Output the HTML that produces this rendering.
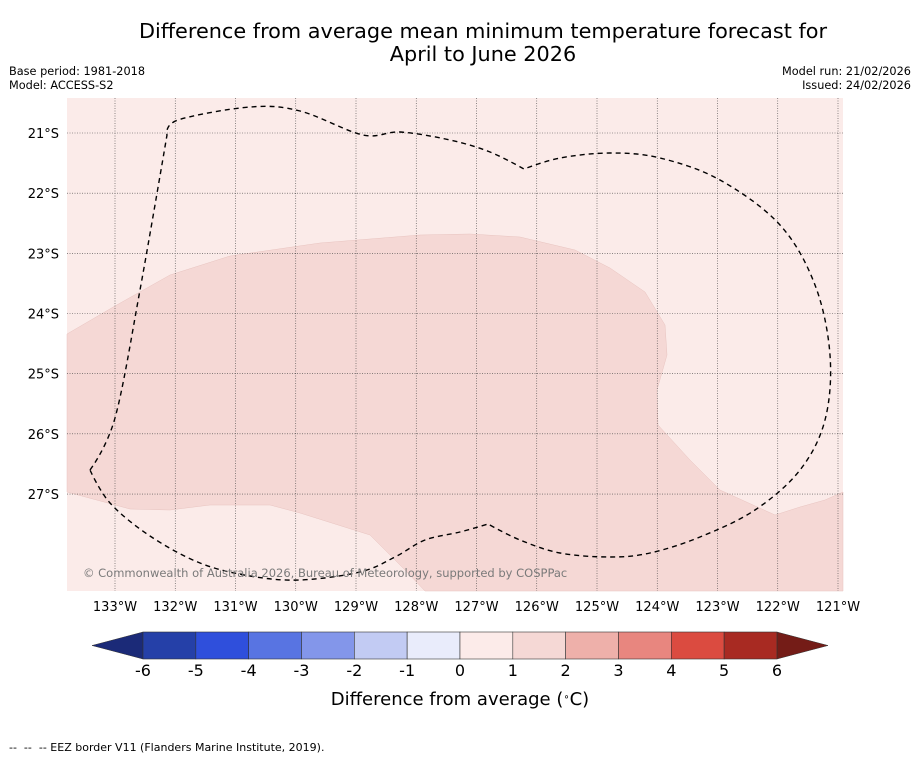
<!DOCTYPE html>
<html><head><meta charset="utf-8"><style>
body{margin:0;background:#fff;font-family:"DejaVu Sans","Liberation Sans",sans-serif;}
</style></head><body>
<svg width="919" height="758" xmlns="http://www.w3.org/2000/svg" font-family="DejaVu Sans, Liberation Sans, sans-serif">
<rect width="919" height="758" fill="#fff"/>
<text x="483" y="38" font-size="20.8" text-anchor="middle">Difference from average mean minimum temperature forecast for</text>
<text x="483" y="61" font-size="20.8" text-anchor="middle">April to June 2026</text>
<text x="9" y="75" font-size="11.3">Base period: 1981-2018</text>
<text x="9" y="89" font-size="11.3">Model: ACCESS-S2</text>
<text x="911" y="75" font-size="11.3" text-anchor="end">Model run: 21/02/2026</text>
<text x="911" y="89" font-size="11.3" text-anchor="end">Issued: 24/02/2026</text>
<g id="map">
<rect x="67" y="98" width="776" height="493" fill="#fbebe9"/>
<polygon fill="#f5d8d5" stroke="#e8c4c0" stroke-width="0.5" points="67,334 115,306 170,275 230,256 320,243 420,235 470,234 520,237 575,250 610,268 645,292 665,325 667,355 657,390 658,425 690,460 720,490 775,515 800,507 825,500 843,492 843,591 425,591 405,570 370,535 300,513 270,505 210,505 170,510 130,509 67,492"/>
<g id="grid"></g>
<path id="eez" fill="none" stroke="#000" stroke-width="1.4" stroke-dasharray="5,4"/>
<text x="83" y="577" font-size="11.5" fill="#7a7a7a">© Commonwealth of Australia 2026, Bureau of Meteorology, supported by COSPPac</text>
</g>
<g id="cbar"></g>
<text x="460" y="705" font-size="18" text-anchor="middle">Difference from average (<tspan baseline-shift="super" font-size="10">∘</tspan>C)</text>
<text x="9" y="751" font-size="11" xml:space="preserve">--  --  -- EEZ border V11 (Flanders Marine Institute, 2019).</text>
</svg>
<script>
const lonTicks=[133,132,131,130,129,128,127,126,125,124,123,122,121];
const latTicks=[21,22,23,24,25,26,27];
const levels=[-6,-5,-4,-3,-2,-1,0,1,2,3,4,5,6];
const binColors=["#2540a8","#2f4fdc","#5874e2","#8396ea","#c2cbf3","#e9ecfb","#fcebe9","#f5d8d5","#eeb0aa","#e8867f","#db4b40","#a82a22"];
const NS="http://www.w3.org/2000/svg";
const lx=v=>115+(133-v)*60.25, ly=v=>133+(v-21)*60.17;
const cx=v=>143+(v+6)*52.83;
const g=document.getElementById('grid'), svg=document.querySelector('svg');
function mk(t,a,p){const e=document.createElementNS(NS,t);for(const k in a)e.setAttribute(k,a[k]);(p||svg).appendChild(e);return e;}
// EEZ smoothed
const ez=[[90,470],[115,418],[140,290],[167,135],[178,120],[250,107],[300,111],[363,135],[400,132],[450,140],[490,152],[524,169],[560,158],[610,153],[660,158],[720,180],[780,225],[815,285],[830,355],[825,420],[800,470],[755,510],[700,537],[650,553],[610,557],[560,553],[520,540],[488,524],[460,532],[425,540],[395,557],[360,572],[300,580],[250,576],[200,563],[150,536],[110,503]];
const sharp=new Set([0,3,11,27]);
let d='M'+ez[0];const n=ez.length;
for(let i=0;i<n;i++){const p0=ez[(i-1+n)%n],p1=ez[i],p2=ez[(i+1)%n],p3=ez[(i+2)%n];
 const t1=sharp.has(i)?0:1/6,t2=sharp.has((i+1)%n)?0:1/6;
 d+=` C${p1[0]+(p2[0]-p0[0])*t1},${p1[1]+(p2[1]-p0[1])*t1} ${p2[0]-(p3[0]-p1[0])*t2},${p2[1]-(p3[1]-p1[1])*t2} ${p2[0]},${p2[1]}`;}
document.getElementById('eez').setAttribute('d',d);
lonTicks.forEach(v=>{const x=lx(v);
 const l=mk('line',{x1:x,x2:x,y1:98,y2:591,stroke:'#444','stroke-width':0.6,'stroke-dasharray':'1,1.5'},g);
 
 
 const t=mk('text',{x:x,y:611,'font-size':13,'text-anchor':'middle'});t.textContent=v+'°W';
 
 });
latTicks.forEach(v=>{const y=ly(v);
 const l=mk('line',{x1:67,x2:843,y1:y,y2:y,stroke:'#444','stroke-width':0.6,'stroke-dasharray':'1,1.5'},g);
 
 
 const t=mk('text',{x:59,y:y+5,'font-size':13,'text-anchor':'end'});t.textContent=v+'°S';
 
 });
const cb=document.getElementById('cbar');
const lo=mk('polygon',{points:`${cx(-6)},632 ${cx(-6)},659 92,645.5`,fill:'#1b2a78',stroke:'#333','stroke-width':0.5},cb);


const hi=mk('polygon',{points:`${cx(6)},632 ${cx(6)},659 828,645.5`,fill:'#741c17',stroke:'#333','stroke-width':0.5},cb);


for(let i=0;i<levels.length-1;i++){
 const r=mk('rect',{x:cx(levels[i]),y:632,width:cx(levels[i+1])-cx(levels[i]),height:27,fill:binColors[i],stroke:'#333','stroke-width':0.6},cb);
 
 
}
levels.forEach(v=>{const t=mk('text',{x:cx(v),y:676,'font-size':16,'text-anchor':'middle'},cb);t.textContent=v;
 
 });
</script>
</body></html>
